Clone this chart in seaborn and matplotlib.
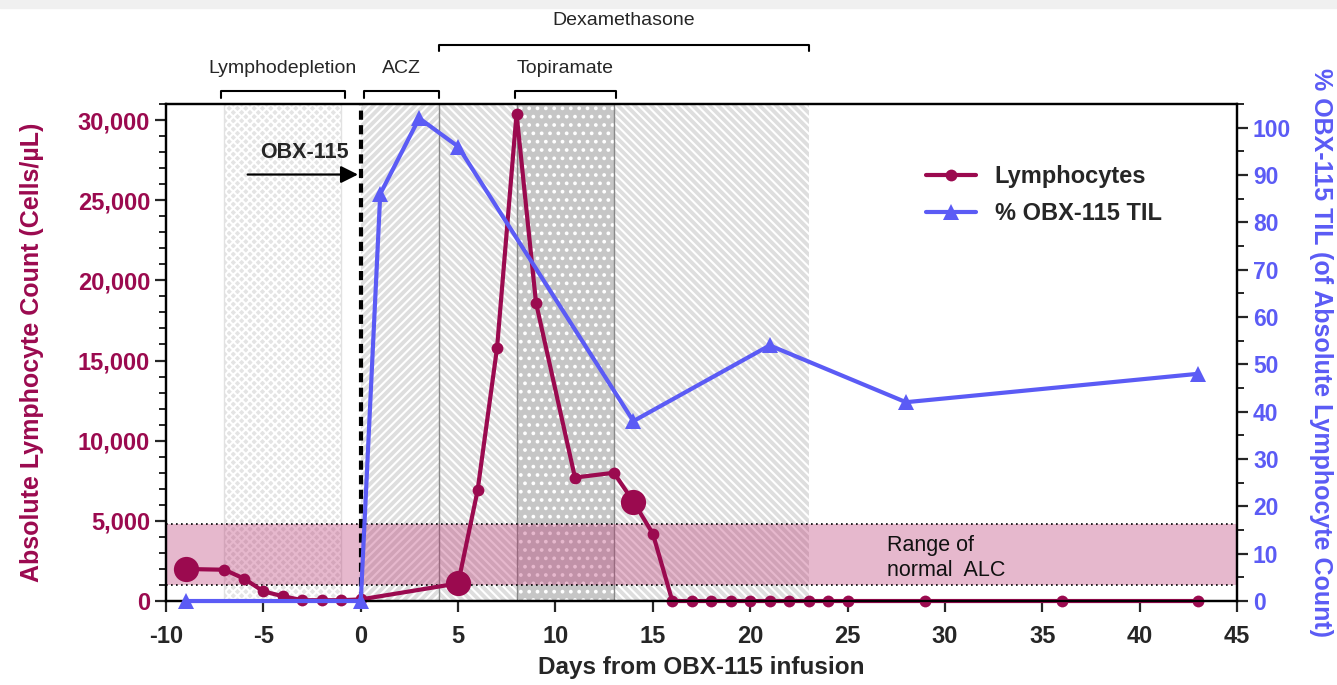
import numpy as np
import pandas as pd
import matplotlib
matplotlib.use("Agg")
import matplotlib.pyplot as plt
import matplotlib.ticker as mticker
from matplotlib.lines import Line2D
from matplotlib.patches import Rectangle
import seaborn as sns

# data
lym_days = [-9, -7, -6, -5, -4, -3, -2, -1, 0, 5, 6, 7, 8, 9, 11, 13, 14, 15,
            16, 17, 18, 19, 20, 21, 22, 23, 24, 25, 29, 36, 43]
lym_count = [2000, 1950, 1400, 600, 300, 50, 50, 50, 100, 1100, 6900, 15800, 30400, 18600, 7700, 8000, 6200, 4200,
             0, 0, 0, 0, 0, 0, 0, 0, 0, 0, 0, 0, 0]
big_days = [-9, 5, 14]   # bigger markers
til_days = [-9, 0, 1, 3, 5, 14, 21, 28, 43]
til_pct = [0, 0, 86, 102, 96, 38, 54, 42, 48]

alc_low, alc_high = 1000, 4800

# treatment windows (start, end)
lympho_win = (-7, -1)
acz_win = (0, 4)
dexa_win = (4, 23)
topi_win = (8, 13)

maroon = "#9b0a4f"
blue = "#5b5bf5"

sns.set_style("ticks")
plt.rcParams['font.family'] = ['Liberation Sans', 'DejaVu Sans']
plt.rcParams['axes.unicode_minus'] = False
plt.rcParams['hatch.linewidth'] = 1.5

lym = pd.DataFrame({"day": lym_days, "count": lym_count})
big = lym[lym["day"].isin(big_days)]
til = pd.DataFrame({"day": til_days, "pct": til_pct})

fig = plt.figure(figsize=(13.37, 6.85), dpi=100)
fig.patches.append(Rectangle((0, 0.988), 1, 0.012, transform=fig.transFigure,
                             color="#f0f0f0", zorder=0))
ax1 = fig.add_axes([0.1242, 0.1226, 0.801, 0.7256])
ax2 = ax1.twinx()

# shaded windows
ax1.axvspan(*lympho_win, facecolor="#e4e4e4", edgecolor="white", hatch="xxxx", lw=0, zorder=0)
ax1.axvspan(*acz_win, facecolor="#dedede", edgecolor="white", hatch="////", lw=0, zorder=0)
ax1.axvspan(*dexa_win, facecolor="#dedede", edgecolor="white", hatch="\\\\\\\\", lw=0, zorder=0)
ax1.axvspan(*topi_win, facecolor="#c6c6c6", edgecolor="white", hatch="..", lw=0, zorder=0.5)
for xv in [acz_win[1], topi_win[0], topi_win[1]]:
    ax1.axvline(xv, color="#888888", lw=1, zorder=0.6)
for xv in lympho_win:
    ax1.axvline(xv, color="#e2e2e2", lw=1, zorder=0.6)

# normal ALC range
ax1.axhspan(alc_low, alc_high, color="#b8306e", alpha=0.34, lw=0, zorder=1)
ax1.axhline(alc_low, color="black", ls=(0, (1, 2)), lw=1.2, zorder=1.1)
ax1.axhline(alc_high, color="black", ls=(0, (1, 2)), lw=1.2, zorder=1.1)
ax1.text(27, 2700, "Range of\nnormal  ALC", fontsize=15.5, va="center", ha="left",
         linespacing=1.25, color="#111111", zorder=2)

# infusion line
ax1.axvline(0, color="black", lw=3, ls=(0, (2.2, 1.3)), zorder=3)
ax1.annotate("", xy=(0, 26600), xytext=(-5.95, 26600),
             arrowprops=dict(arrowstyle="-|>", color="black", lw=1.6, mutation_scale=26), zorder=3)
ax1.text(-2.9, 28000, "OBX-115", fontsize=15.5, fontweight="bold", ha="center", va="center")

# lymphocytes
sns.lineplot(data=lym, x="day", y="count", ax=ax1, color=maroon, lw=3, marker="o",
             markersize=8.5, markeredgewidth=0, markeredgecolor=maroon, errorbar=None,
             zorder=4, clip_on=False)
sns.scatterplot(data=big, x="day", y="count", ax=ax1, color=maroon, s=330, linewidth=0,
                zorder=5, clip_on=False)

# TIL percentage
sns.lineplot(data=til, x="day", y="pct", ax=ax2, color=blue, lw=3, marker="^",
             markersize=12, markeredgewidth=0, markeredgecolor=blue, errorbar=None,
             zorder=4, clip_on=False)

ax1.set_xlim(-10, 45)
ax1.set_ylim(0, 31000)
ax2.set_ylim(0, 105)
ax1.set_xticks(np.arange(-10, 46, 5))
ax1.set_yticks(np.arange(0, 30001, 5000))
ax1.yaxis.set_minor_locator(mticker.MultipleLocator(1000))
ax2.set_yticks(np.arange(0, 101, 10))
ax2.yaxis.set_minor_locator(mticker.MultipleLocator(5))
ax1.yaxis.set_major_formatter(mticker.StrMethodFormatter("{x:,.0f}"))

for ax in (ax1, ax2):
    for sp in ax.spines.values():
        sp.set_linewidth(1.6)
        sp.set_color("black")
    ax.tick_params(which="major", length=8, width=1.6)
    ax.tick_params(which="minor", length=5, width=1.4)
ax1.tick_params(axis="y", labelcolor=maroon, labelsize=17)
ax1.tick_params(axis="x", labelsize=17, pad=9)
ax2.tick_params(axis="y", labelcolor=blue, labelsize=16.5)
for lab in ax1.get_xticklabels() + ax1.get_yticklabels() + ax2.get_yticklabels():
    lab.set_fontweight("bold")

ax1.set_xlabel("Days from OBX-115 infusion", fontsize=17.5, fontweight="bold", labelpad=6)
ax1.set_ylabel("Absolute Lymphocyte Count (Cells/µL)", fontsize=18, fontweight="bold",
               color=maroon, labelpad=24)
ax2.set_ylabel("% OBX-115 TIL (of Absolute Lymphocyte Count)", fontsize=18, fontweight="bold",
               color=blue, rotation=270, labelpad=30)

# brackets above the plot
tr = ax1.get_xaxis_transform()
def bracket(x0, x1, y, label, ly):
    ax1.plot([x0, x0, x1, x1], [y - 0.013, y, y, y - 0.013], color="black", lw=1.5,
             transform=tr, clip_on=False)
    ax1.text((x0 + x1) / 2, ly, label, transform=tr, ha="center", va="center", fontsize=14)

bracket(-7.2, -0.8, 1.026, "Lymphodepletion", 1.071)
bracket(0.15, 4.0, 1.026, "ACZ", 1.071)
bracket(7.9, 13.1, 1.026, "Topiramate", 1.071)
bracket(4.0, 23.0, 1.119, "Dexamethasone", 1.168)

handles = [Line2D([], [], color=maroon, lw=3, marker="o", markersize=8.5, markeredgewidth=0),
           Line2D([], [], color=blue, lw=3, marker="^", markersize=12, markeredgewidth=0)]
ax2.legend(handles, ["Lymphocytes", "% OBX-115 TIL"], loc="upper left",
           bbox_to_anchor=(0.69, 0.92), frameon=False, handlelength=2.1,
           prop={"weight": "bold", "size": 17}, labelspacing=0.6, handletextpad=0.8)

fig.savefig("out.png", dpi=100)
